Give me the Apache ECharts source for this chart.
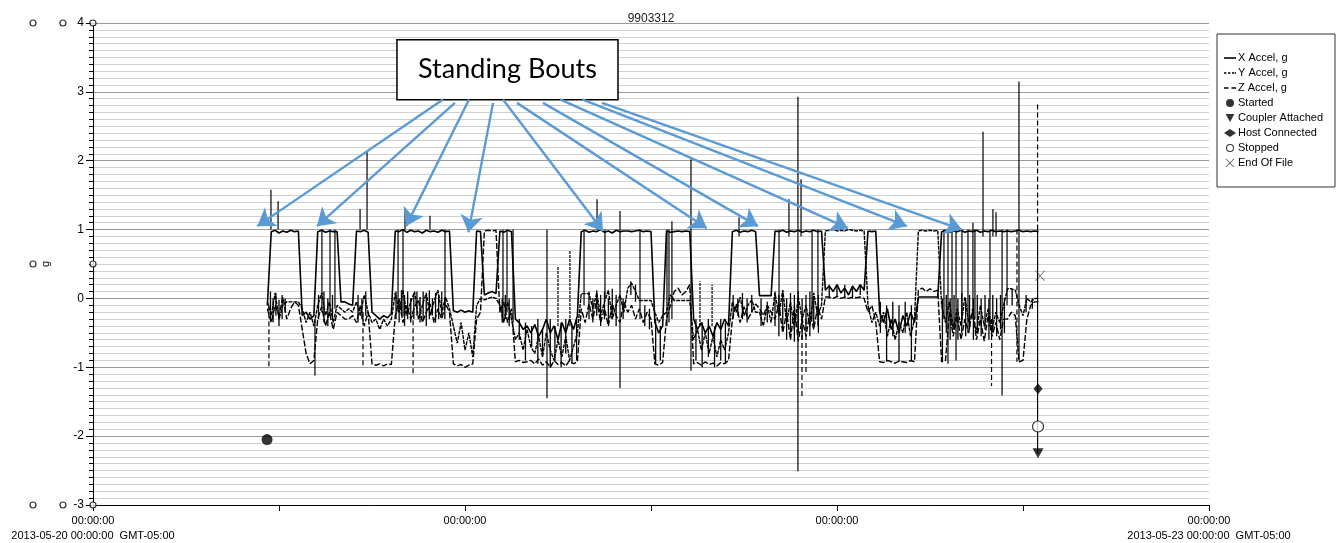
<!DOCTYPE html>
<html>
<head>
<meta charset="utf-8">
<script src="https://cdn.jsdelivr.net/npm/echarts@6/dist/echarts.min.js"></script>
<style>
  html, body { margin: 0; padding: 0; background: #fff; }
  #chart { width: 1338px; height: 543px; }
</style>
</head>
<body>
<div id="chart"></div>
<script>
// samples every 0.25 h starting at 11.25 h after 2013-05-20 00:00
var startHour = 11.25;
var stepHour = 0.25;

var xAccel = [
  -0.1, 0.97, 0.99, 0.95, 0.98, 0.96, 0.99, 0.97, 0.98,
  -0.25, -0.2, -0.3, -0.25,
  0.97, 0.99, 0.96, 0.98, 0.97, 0.97,
  -0.05, -0.05, -0.08, -0.1,
  0.98, 0.97, 0.99, 0.96,
  -0.2, -0.25, -0.3, -0.25, -0.28, -0.22,
  0.98, 0.97, 1.0, 0.96, 0.99, 0.97, 0.98, 0.95, 0.99, 0.97, 0.98, 0.96, 0.99, 0.97, 0.98,
  -0.18, -0.2, -0.17, -0.2, -0.18, -0.2,
  0.98, 0.97,
  0.05, 0.08, 0.1, 0.07,
  0.98, 0.96, 0.99, 0.97,
  -0.3, -0.35, -0.45, -0.4, -0.5, -0.38, -0.55, -0.45, -0.3, -0.5, -0.4, -0.6, -0.35, -0.5, -0.3, -0.45, -0.25,
  0.97, 0.99, 0.96, 0.98, 0.97, 1.0, 0.96, 0.98, 0.95, 0.99, 0.97, 0.98,
  0.98, 0.97, 0.98, 0.99, 0.97, 0.98, 0.97,
  -0.35, -0.5, -0.4,
  0.98, 0.96,
  0.97, 0.98, 0.97, 0.98, 0.97,
  -0.3, -0.45, -0.35, -0.5, -0.4, -0.55, -0.35, -0.45, -0.3, -0.4,
  0.97, 0.99, 0.96, 0.98, 0.97, 0.99, 0.97,
  0.04, 0.04, 0.04, 0.04,
  0.98, 0.97, 0.99, 0.96, 0.98, 0.97, 0.99, 0.96, 0.98, 0.97, 0.99, 0.97, 0.98,
  0.12, 0.18, 0.1, 0.2, 0.08, 0.15, 0.05, 0.18, 0.1, 0.2, 0.12,
  0.98, 0.97, 0.98,
  -0.2, -0.35, -0.15, -0.45, -0.3, -0.5, -0.25, -0.4, -0.2, -0.35,
  0.02, 0.02, 0.02, 0.02, 0.02, 0.02,
  0.97, 0.99, 0.96, 0.98, 0.97, 0.99, 0.96, 0.98, 0.97, 0.99, 0.96, 0.98, 0.97, 0.99, 0.97, 0.98, 0.97,
  0.98, 0.97, 0.98, 0.99, 0.97, 0.98, 0.97, 0.98, 0.97
];

var yAccel = [
  -0.05, -0.25, 0.08, -0.3, -0.1, -0.05, -0.05, -0.05, -0.05,
  -0.15, -0.35, -0.2, -0.4,
  -0.1, 0.08, -0.25, -0.05, -0.35, -0.1,
  -0.15, -0.2, -0.15, -0.2,
  -0.05, -0.25, 0.05, -0.2,
  -0.35, -0.3, -0.45, -0.3, -0.4, -0.3,
  0.08, -0.2, 0.12, -0.25, -0.05, 0.1, -0.3, -0.1, 0.08, -0.25, -0.05, 0.12, -0.2, 0.02, -0.15,
  -0.4, -0.65, -0.35, -0.75, -0.5, -0.85,
  -0.1, 0.0,
  -0.02, 0.0, 0.02, 0.0,
  -0.1, -0.35, -0.05, -0.3,
  -0.6, -0.5, -0.75, -0.45, -0.7, -0.8, -0.55, -0.85, -0.5, -0.75, -0.9, -0.6, -0.85, -0.55, -0.9, -0.7, -0.5,
  0.07, 0.07, 0.07, -0.15, 0.08, -0.25, -0.05, 0.12, -0.3, -0.1, 0.05, -0.2,
  0.15, 0.22, 0.1, -0.03, -0.03, -0.03, -0.03,
  -0.2, -0.35, -0.25,
  -0.2, 0.05,
  -0.03, -0.03, -0.03, -0.03, -0.03,
  -0.6, -0.45, -0.75, -0.5, -0.8, -0.55, -0.85, -0.6, -0.75, -0.5,
  -0.05, -0.2, 0.02, -0.25, -0.1, -0.02, -0.2,
  -0.2, -0.4, -0.1, -0.35,
  0.08, -0.25, 0.12, -0.35, -0.05, -0.45, 0.02, -0.3, -0.1, -0.4, 0.08, -0.25, -0.1,
  0.98, 0.99, 1.0, 0.98, 0.99, 0.98, 1.0, 0.99, 0.98, 0.99, 0.98,
  -0.1, -0.35, -0.2,
  -0.4, -0.2, -0.55, -0.3, -0.6, -0.35, -0.5, -0.2, -0.55, -0.3,
  0.98, 0.99, 0.98, 0.99, 0.98, 0.99,
  -0.1, -0.35, -0.05, -0.45, -0.15, -0.4, 0.02, -0.35, -0.2, -0.5, -0.1, -0.4, -0.15, -0.45, -0.2, -0.35, -0.1,
  0.14, 0.14, 0.12, -0.1, -0.25, 0.0, -0.05, 0.0, 0.0
];

var zAccel = [
  -0.15, -0.35, -0.1, -0.25, 0.02, -0.3, -0.15, -0.05, -0.1,
  -0.45, -0.8, -0.95, -0.9,
  -0.3, -0.12, -0.4, -0.2, -0.45, -0.2,
  -0.25, -0.3, -0.3, -0.25,
  -0.35, -0.1, -0.4, -0.2,
  -0.95, -0.97, -0.95, -0.98, -0.95, -0.96,
  -0.25, -0.02, -0.35, -0.1, -0.3, -0.12, -0.02, -0.35, -0.2, -0.08, -0.35, -0.15, -0.3, -0.08, -0.2,
  -0.95, -0.98, -0.96, -1.0, -0.97, -0.95,
  -0.3, -0.2,
  0.98, 0.99, 0.98, 0.99,
  -0.2, -0.05, -0.35, -0.15,
  -0.92, -0.9, -0.93, -0.92, -0.9, -0.95, -0.88, -0.97, -0.92, -1.0, -0.9, -0.96, -0.93, -0.98, -0.9, -0.95, -0.92,
  -0.15, -0.35, -0.08, -0.3, -0.02, -0.35, -0.15, -0.4, -0.08, -0.25, -0.35, -0.05,
  -0.2, -0.1, -0.3, -0.15, -0.35, -0.2, -0.3,
  -0.95, -0.97, -0.93,
  -0.3, -0.1,
  0.1, 0.15, 0.05, 0.1, 0.2,
  -0.95, -0.93, -0.97, -0.92, -0.96, -0.94, -0.98, -0.93, -0.95, -0.9,
  -0.3, -0.08, -0.35, -0.12, -0.3, -0.2, -0.08,
  -0.15, -0.25, -0.1, -0.2,
  -0.3, -0.08, -0.5, -0.2, -0.6, -0.12, -0.62, -0.3, -0.55, -0.2, -0.45, -0.12, -0.3,
  0.02, 0.02, 0.0, 0.03, 0.0, 0.02, 0.0, 0.02, 0.01, 0.02, 0.0,
  -0.2, -0.1, -0.34,
  -0.92, -0.93, -0.9, -0.92, -0.94, -0.91, -0.92, -0.93, -0.9, -0.92,
  0.12, 0.15, 0.1, 0.14, 0.1, 0.12,
  -0.92, -0.9, -0.2, -0.55, -0.25, -0.6, -0.3, -0.5, -0.15, -0.6, -0.3, -0.62, -0.25, -0.55, -0.35, -0.6, -0.3,
  -0.3, -0.2, -0.25, -0.92, -0.9, -0.3, -0.1, -0.05, -0.05
];

// short single-sample excursions: [hour, from, to]
var xSpikes = [
  [11.48, 1.0, 1.58], [11.94, 1.0, 1.41], [14.32, -0.3, -1.12], [14.77, 1.0, -0.2],
  [15.29, 1.0, -0.25], [15.61, 1.0, -0.15], [17.23, 1.0, 1.3], [17.68, 1.0, 2.13],
  [19.68, 1.0, -0.2], [20.0, 1.0, -0.25], [20.13, 1.0, 1.3], [21.74, 1.0, 1.2],
  [22.71, 1.0, -0.1], [26.45, 1.0, -0.3], [26.71, 1.0, -0.2], [27.1, 1.0, -0.35],
  [29.29, 1.0, -1.45], [31.68, 1.0, -0.1], [32.52, 1.0, 1.44], [33.03, 1.0, 0.0],
  [34.0, 1.27, -1.3], [35.29, 1.0, -0.3], [37.03, 1.0, -0.4], [37.16, 1.0, -0.35],
  [37.35, 1.12, -0.3], [38.58, 2.02, -1.05], [41.68, 1.18, 0.9], [44.26, 1.0, -0.2],
  [44.9, 1.44, 0.9], [45.48, 2.93, -2.51], [45.68, 1.73, 0.9], [46.39, 1.0, -0.3],
  [46.77, 1.0, -0.4], [54.9, 1.0, -0.3], [55.16, 1.0, -0.95], [55.42, 1.0, -0.4],
  [55.68, 1.0, -0.9], [56.06, 1.0, -0.3], [56.45, 1.0, -0.5], [56.77, 1.1, -0.3],
  [56.9, 1.0, -0.3], [57.42, 2.42, 0.9], [57.87, 1.0, -0.4], [58.06, 1.3, 0.9],
  [58.26, 1.25, 0.9], [58.65, 1.0, -1.41], [58.97, 1.0, -0.1], [59.74, 3.15, -0.9],
  [60.94, 1.0, -2.25]
];
var ySpikes = [
  [30.0, -0.4, 0.47], [30.77, -0.4, 0.69], [39.16, -0.4, 0.25], [39.94, -0.4, 0.2]
];
var zSpikes = [
  [11.35, -0.1, -1.0], [17.42, -0.2, -1.0], [20.65, -0.2, -1.12], [45.74, -0.3, -1.45],
  [46.0, -0.3, -1.1], [57.97, -0.3, -1.27], [59.61, 1.0, -0.92], [60.94, 1.0, 2.86]
];

// dense noise strokes of the lower traces: [hour, top, bottom]
var noiseStrokes = [
  [11.45, 0.1, -0.3], [11.62, 0.0, -0.35], [11.8, 0.08, -0.25], [12.0, -0.02, -0.4], [12.2, 0.05, -0.3], [12.4, 0.0, -0.2],
  [14.55, 0.05, -0.3], [14.9, 0.1, -0.35], [15.15, 0.0, -0.4], [15.45, 0.05, -0.3],
  [17.1, 0.05, -0.35], [17.35, 0.0, -0.3], [17.6, 0.1, -0.25],
  [19.55, 0.1, -0.3], [19.75, 0.0, -0.35], [19.9, 0.12, -0.25], [20.1, 0.05, -0.4], [20.3, 0.1, -0.3],
  [20.5, 0.0, -0.35], [20.7, 0.08, -0.3], [20.9, 0.1, -0.25], [21.1, 0.02, -0.35], [21.3, 0.1, -0.3],
  [21.5, 0.05, -0.4], [21.7, 0.12, -0.3], [21.9, 0.0, -0.25], [22.1, 0.08, -0.35], [22.3, 0.05, -0.3],
  [22.5, 0.1, -0.25], [22.7, 0.0, -0.3],
  [26.4, 0.0, -0.35], [26.6, 0.05, -0.3], [26.85, 0.0, -0.4],
  [27.5, -0.3, -0.6], [27.9, -0.35, -0.9], [28.3, -0.4, -0.7], [28.7, -0.3, -0.95], [29.0, -0.45, -0.85],
  [29.5, -0.3, -1.0], [29.8, -0.4, -0.9], [30.2, -0.35, -1.0], [30.5, -0.3, -0.8], [30.9, -0.4, -0.95], [31.2, -0.3, -0.9],
  [32.0, 0.1, -0.3], [32.25, 0.0, -0.35], [32.5, 0.12, -0.25], [32.75, 0.05, -0.4], [33.0, 0.1, -0.3],
  [33.25, 0.0, -0.35], [33.5, 0.14, -0.3], [33.75, 0.05, -0.4], [34.2, 0.0, -0.3],
  [34.7, 0.25, 0.05], [35.0, 0.2, -0.05], [35.6, -0.1, -0.4], [35.9, -0.15, -0.45],
  [36.3, -0.3, -0.95], [36.6, -0.4, -0.9],
  [38.9, -0.3, -0.9], [39.3, -0.35, -1.0], [39.7, -0.3, -0.85], [40.1, -0.4, -1.0], [40.5, -0.3, -0.9], [40.8, -0.35, -0.95],
  [41.3, 0.05, -0.3], [41.6, 0.0, -0.25], [41.9, 0.08, -0.3], [42.2, 0.0, -0.35], [42.5, 0.05, -0.2],
  [43.1, 0.0, -0.4], [43.5, -0.05, -0.35],
  [44.0, 0.1, -0.4], [44.25, 0.05, -0.55], [44.5, 0.1, -0.45], [44.75, 0.0, -0.6], [45.0, 0.08, -0.5],
  [45.25, 0.05, -0.63], [45.5, 0.1, -0.5], [45.75, 0.0, -0.6], [46.0, 0.05, -0.45], [46.25, 0.1, -0.55],
  [46.5, 0.0, -0.4], [46.8, 0.05, -0.5],
  [47.5, 0.2, 0.0], [48.0, 0.18, 0.02], [48.5, 0.2, 0.0], [49.0, 0.15, 0.0], [49.5, 0.2, 0.05],
  [50.8, -0.05, -0.5], [51.2, -0.1, -0.92], [51.6, -0.05, -0.55], [52.0, -0.1, -0.92], [52.4, -0.05, -0.5], [52.8, -0.1, -0.92],
  [54.8, 0.0, -0.92], [55.05, 0.05, -0.5], [55.3, 0.0, -0.6], [55.55, 0.05, -0.45], [55.8, 0.0, -0.6],
  [56.05, 0.08, -0.5], [56.3, 0.0, -0.55], [56.55, 0.05, -0.45], [56.8, 0.0, -0.6], [57.05, 0.05, -0.5],
  [57.3, 0.0, -0.55], [57.55, 0.05, -0.45], [57.8, 0.0, -0.6], [58.05, 0.05, -0.5], [58.3, 0.0, -0.55],
  [58.55, 0.05, -0.45], [58.8, 0.0, -0.5],
  [59.3, 0.14, -0.1], [60.2, 0.05, -0.2], [60.6, 0.0, -0.15]
];

// event markers [hour, g]
var startedPt = [[11.23, -2.05]];
var couplerPt = [[60.97, -2.25]];
var hostPt = [[60.97, -1.31]];
var stoppedPt = [[60.97, -1.86]];
var eofPt = [[61.1, 0.33]];

// annotation: arrows from the label box to each standing bout
var arrowFrom = [
  [22.58, 2.89], [23.35, 2.84], [24.26, 2.89], [25.81, 2.84], [26.45, 2.89],
  [27.35, 2.84], [29.03, 2.84], [30.13, 2.89], [31.55, 2.89], [32.84, 2.84]
];
var arrowTo = [
  [10.6, 1.05], [14.45, 1.05], [20.2, 1.05], [24.22, 0.96], [32.9, 0.98],
  [39.6, 1.02], [42.9, 1.05], [48.7, 1.02], [52.5, 1.05], [56.05, 1.0]
];
var boxCorners = [[19.61, 3.755], [33.87, 2.887]];

var tickHours = [0, 24, 48, 72];
var tickLabels = [
  '00:00:00\n2013-05-20 00:00:00  GMT-05:00',
  '00:00:00',
  '00:00:00',
  '00:00:00\n2013-05-23 00:00:00  GMT-05:00'
];

var decoPts = [[-3.87, 4], [-1.94, 4], [0, 4], [-3.87, 0.5], [0, 0.5], [-3.87, -3], [-1.94, -3], [0, -3]];

function toSeries(vals) {
  return vals.map(function (v, i) { return [startHour + i * stepHour, v]; });
}

function vlines(dash, width) {
  return function (params, api) {
    var a = api.coord([api.value(0), api.value(1)]);
    var b = api.coord([api.value(0), api.value(2)]);
    return {
      type: 'line',
      shape: { x1: a[0], y1: a[1], x2: b[0], y2: b[1] },
      style: { stroke: '#000', lineWidth: width, lineDash: dash }
    };
  };
}

var font = 'Liberation Sans';
var ring = 'path://M5,0A5,5 0 1,1 4.99,0Z M5,1.3A3.7,3.7 0 1,0 5.01,1.3Z';
var cross = 'path://M0,0L1,0L5,4.2L9,0L10,0L5.5,4.7L10,9.4L9,9.4L5,5.2L1,9.4L0,9.4L4.5,4.7Z';
var myChart = echarts.init(document.getElementById('chart'));

var option = {
  animation: false,
  backgroundColor: '#fff',
  title: {
    text: '9903312',
    left: 646,
    textAlign: 'center',
    top: 8,
    textStyle: { fontFamily: font, fontSize: 12, fontWeight: 'normal', color: '#222' }
  },
  legend: {
    orient: 'vertical',
    left: 1217,
    top: 34,
    padding: [18, 12, 18, 7],
    borderColor: '#333',
    borderWidth: 1,
    itemWidth: 12,
    itemHeight: 8,
    itemGap: 3,
    selectedMode: false,
    textStyle: { fontFamily: font, fontSize: 11, color: '#000', lineHeight: 12, padding: [0, 0, 0, -3] },
    data: [
      { name: 'X Accel, g', icon: 'path://M0,0H12V1.6H0Z', itemStyle: { color: '#000' } },
      { name: 'Y Accel, g', icon: 'path://M0,0H2.4V1.6H0Z M4,0H6.4V1.6H4Z M8,0H10.4V1.6H8Z M11,0H12V1.6H11Z', itemStyle: { color: '#000' } },
      { name: 'Z Accel, g', icon: 'path://M0,0H4.5V1.6H0Z M7.5,0H12V1.6H7.5Z', itemStyle: { color: '#000' } },
      { name: 'Started', icon: 'circle', itemStyle: { color: '#000' } },
      { name: 'Coupler Attached', icon: 'path://M0,0H10L5,9Z', itemStyle: { color: '#000' } },
      { name: 'Host Connected', icon: 'diamond', itemStyle: { color: '#000' } },
      { name: 'Stopped', icon: ring, itemStyle: { color: '#000', borderWidth: 0 } },
      { name: 'End Of File', icon: cross, itemStyle: { color: '#000' } }
    ]
  },
  grid: { left: 93, right: 129, top: 23, bottom: 36 },
  xAxis: {
    type: 'value',
    min: 0,
    max: 72,
    interval: 12,
    axisLine: { onZero: false, lineStyle: { color: '#000', width: 1 } },
    axisTick: { length: 6, lineStyle: { color: '#000' } },
    splitLine: { show: false },
    axisLabel: {
      color: '#000',
      fontFamily: font,
      fontSize: 11,
      lineHeight: 15,
      margin: 8,
      showMinLabel: true,
      showMaxLabel: true,
      formatter: function (v) {
        var k = tickHours.indexOf(v);
        return k >= 0 ? tickLabels[k] : '';
      }
    }
  },
  yAxis: {
    type: 'value',
    min: -3,
    max: 4,
    interval: 1,
    name: 'g',
    nameLocation: 'middle',
    nameGap: 42,
    nameTextStyle: { fontFamily: font, fontSize: 11, color: '#000' },
    axisLine: { show: true, onZero: false, lineStyle: { color: '#000', width: 1 } },
    axisTick: { show: true, length: 7, lineStyle: { color: '#000' } },
    minorTick: { show: true, splitNumber: 10, length: 4, lineStyle: { color: '#000' } },
    splitLine: { show: true, lineStyle: { color: '#9a9a9a', width: 1 } },
    minorSplitLine: { show: true, lineStyle: { color: '#d0d0d0', width: 1 } },
    axisLabel: { color: '#000', fontFamily: font, fontSize: 12, margin: 9 }
  },
  series: [
    {
      name: 'X Accel, g', type: 'line', data: toSeries(xAccel), showSymbol: false,
      lineStyle: { color: '#000', width: 1.6 }, itemStyle: { color: '#000' }, z: 3
    },
    {
      name: 'Y Accel, g', type: 'line', data: toSeries(yAccel), showSymbol: false,
      lineStyle: { color: '#000', width: 1.4, type: [4, 1] }, itemStyle: { color: '#000' }, z: 3
    },
    {
      name: 'Z Accel, g', type: 'line', data: toSeries(zAccel), showSymbol: false,
      lineStyle: { color: '#000', width: 1.4, type: [6, 2] }, itemStyle: { color: '#000' }, z: 3
    },
    { name: 'X Accel, g', type: 'custom', data: xSpikes, renderItem: vlines(null, 1.2), encode: { x: 0, y: [1, 2] }, z: 3, itemStyle: { color: '#000' } },
    { name: 'Y Accel, g', type: 'custom', data: ySpikes, renderItem: vlines([3, 1], 1.2), encode: { x: 0, y: [1, 2] }, z: 3, itemStyle: { color: '#000' } },
    { name: 'Z Accel, g', type: 'custom', data: zSpikes, renderItem: vlines([5, 3], 1.2), encode: { x: 0, y: [1, 2] }, z: 3, itemStyle: { color: '#000' } },
    { name: 'Y Accel, g', type: 'custom', data: noiseStrokes, renderItem: vlines(null, 1.3), encode: { x: 0, y: [1, 2] }, z: 3, itemStyle: { color: '#000' } },
    { name: 'Started', type: 'scatter', data: startedPt, symbol: 'circle', symbolSize: 11, itemStyle: { color: '#000' }, z: 5 },
    { name: 'Coupler Attached', type: 'scatter', data: couplerPt, symbol: 'path://M0,0H10L5,9Z', symbolSize: [11, 10], itemStyle: { color: '#000' }, z: 5 },
    { name: 'Host Connected', type: 'scatter', data: hostPt, symbol: 'diamond', symbolSize: [9, 11], itemStyle: { color: '#000' }, z: 5 },
    { name: 'Stopped', type: 'scatter', data: stoppedPt, symbol: 'circle', symbolSize: 11, itemStyle: { color: '#fff', borderColor: '#000', borderWidth: 1.2 }, z: 5 },
    { name: 'End Of File', type: 'scatter', data: eofPt, symbol: cross, symbolSize: 10, itemStyle: { color: '#333' }, z: 5 },
    {
      name: 'deco', type: 'scatter', data: decoPts, symbol: 'circle', symbolSize: 6, clip: false,
      itemStyle: { color: '#fff', borderColor: '#000', borderWidth: 1.2 }, z: 6, silent: true
    },
    {
      name: 'annotation', type: 'line', data: [], z: 10, silent: true,
      markArea: {
        silent: true,
        itemStyle: { color: '#fff', borderColor: '#000', borderWidth: 1.5, opacity: 1 },
        label: { show: true, position: 'inside', fontFamily: 'Lato', fontSize: 27, color: '#000' },
        data: [[{ name: 'Standing Bouts', coord: boxCorners[0] }, { coord: boxCorners[1] }]]
      },
      markLine: {
        silent: true,
        symbol: ['none', 'arrow'],
        symbolSize: 17,
        label: { show: false },
        lineStyle: { color: '#5b9bd5', width: 2.4, type: 'solid' },
        data: arrowFrom.map(function (p, i) { return [{ coord: p }, { coord: arrowTo[i] }]; })
      }
    }
  ]
};

myChart.setOption(option);
</script>
</body>
</html>
